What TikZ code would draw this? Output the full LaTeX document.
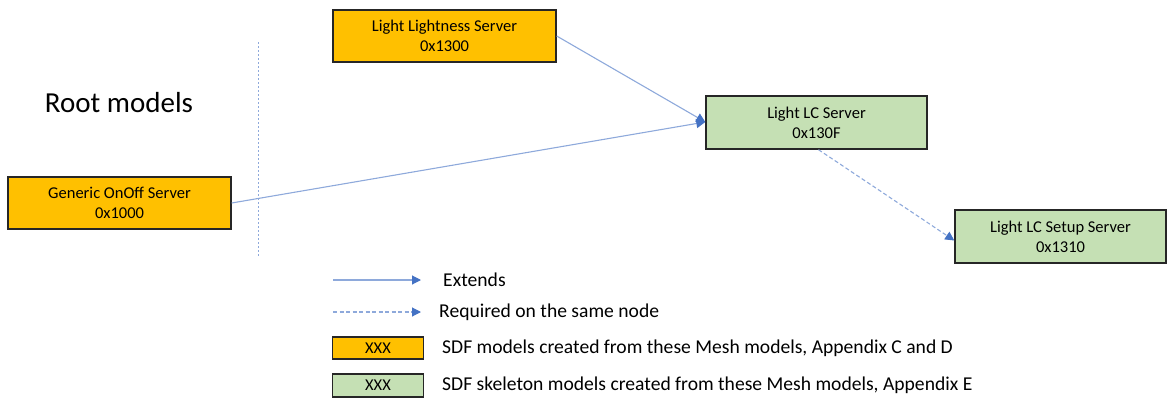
\documentclass[tikz,border=0pt]{standalone}
\usepackage{fontspec}
\setmainfont{Carlito}
\usetikzlibrary{arrows.meta}
\definecolor{orangebox}{HTML}{FFC000}
\definecolor{greenbox}{HTML}{C5E0B4}
\definecolor{linkline}{HTML}{8EA9DB}
\definecolor{linktip}{HTML}{4472C4}
\tikzset{
  model/.style={draw=black!85, line width=1.4pt, align=center, inner sep=0pt,
    font=\fontsize{16.5}{20}\selectfont},
  sdf/.style={model, fill=orangebox},
  skel/.style={model, fill=greenbox},
  extends/.style={draw=linkline, line width=1.1pt,
    -{Triangle[length=9pt,width=9pt,fill=linktip,color=linktip]}},
  requires/.style={extends, dash pattern=on 4pt off 2.5pt},
  legendtext/.style={anchor=west, inner sep=0pt, font=\fontsize{19.6}{22}\selectfont},
}
\begin{document}
\begin{tikzpicture}[x=1pt,y=-1pt]
\useasboundingbox (0,0) rectangle (1168,399);
% nodes
\node[sdf, minimum width=223pt, minimum height=52pt] (lls) at (444.5,36) {Light Lightness Server\\0x1300};
\node[sdf, minimum width=223pt, minimum height=52pt] (goo) at (119.5,203) {Generic OnOff Server\\0x1000};
\node[skel, minimum width=221pt, minimum height=53pt] (lc) at (816.5,122.5) {Light LC Server\\0x130F};
\node[skel, minimum width=211pt, minimum height=53pt] (lcs) at (1060.5,236.5) {Light LC Setup Server\\0x1310};
\node[inner sep=0pt, font=\fontsize{29}{32}\selectfont] (root) at (119,103) {Root models};
% divider
\coordinate (dtop) at (258,42);
\coordinate (dbot) at (258,256);
\draw[linkline, line width=1pt, dash pattern=on 2pt off 2pt] (dtop) -- (dbot);
% connectors
\draw[extends] (lls.east) -- ([yshift=0.5pt]lc.west);
\draw[extends] (goo.east) -- ([yshift=0.5pt]lc.west);
\draw[requires] ([xshift=2pt]lc.south) -- ([yshift=-4pt]lcs.west);
% legend
\coordinate (l1a) at (333,280);
\coordinate (l1b) at (421,280);
\draw[extends] (l1a) -- (l1b);
\node[legendtext] (t1) at (443,280) {Extends};
\coordinate (l2a) at (333,312);
\coordinate (l2b) at (421,312);
\draw[requires] (l2a) -- (l2b);
\node[legendtext] (t2) at (439,312) {Required on the same node};
\node[sdf, minimum width=91pt, minimum height=22pt] (lo) at (378,348) {XXX};
\node[legendtext] (t3) at (442,348) {SDF models created from these Mesh models, Appendix C and D};
\node[skel, minimum width=91pt, minimum height=23pt] (lg) at (378,385.5) {XXX};
\node[legendtext] (t4) at (442,385.5) {SDF skeleton models created from these Mesh models, Appendix E};
\end{tikzpicture}
\end{document}
